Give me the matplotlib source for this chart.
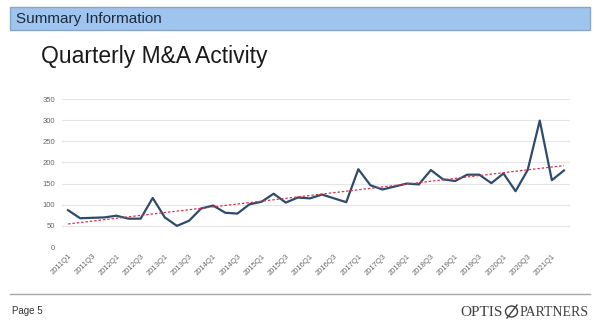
import numpy as np
import matplotlib
matplotlib.use('Agg')
import matplotlib.pyplot as plt
from matplotlib.patches import Rectangle, Ellipse
from matplotlib.lines import Line2D

# quarterly deal counts, 2011Q1 .. 2021Q2
quarters = [f"{y}Q{q}" for y in range(2011, 2022) for q in range(1, 5)][:42]
deals = [87, 68, 69, 70, 74, 67, 67, 116, 70, 50,
         62, 91, 98, 81, 79, 101, 107, 126, 105, 117,
         115, 124, 115, 106, 184, 146, 136, 143, 150, 148,
         182, 160, 156, 171, 171, 151, 174, 132, 182, 299,
         158, 181]
y_ticks = [0, 50, 100, 150, 200, 250, 300, 350]

W, H = 600, 325

def fx(px):
    return px / W

def fy(py):
    return 1 - py / H

fig = plt.figure(figsize=(6, 3.25), dpi=100)
fig.patch.set_facecolor('white')

# header bar
fig.patches.append(Rectangle((fx(10), fy(30)), fx(580), 23 / H, transform=fig.transFigure,
                             facecolor='#9fc5ee', edgecolor='#8aa6c6', lw=1.0))
fig.text(fx(16), fy(18.5), 'Summary Information', fontsize=11, color='#1c2a40',
         family='Liberation Sans', va='center', ha='left')

fig.text(fx(41), fy(57), 'Quarterly M&A Activity', fontsize=16.5, color='#1a1a1a',
         family='Liberation Sans', va='center', ha='left')

# chart
ax = fig.add_axes([fx(62), fy(247), fx(508), 148 / H])
x = np.arange(len(deals))
ax.plot(x, deals, color='#2f4b6c', lw=1.6, zorder=3)
slope, icpt = np.polyfit(x, deals, 1)
ax.plot(x, slope * x + icpt, color='#d9344a', lw=0.9, ls=(0, (2, 1.5)), zorder=4)

ax.set_xlim(-0.5, len(deals) - 0.5)
ax.set_ylim(0, 350)
ax.set_yticks(y_ticks)
ax.set_yticklabels([str(v) for v in y_ticks])
ax.set_xticks(x[::2])
ax.set_xticklabels(quarters[::2], rotation=45, ha='right', va='top', rotation_mode='anchor')
ax.grid(axis='y', color='#e6e6e6', lw=0.8)
ax.set_axisbelow(True)
for s in ax.spines.values():
    s.set_visible(False)
ax.tick_params(length=0, labelsize=5.5, labelcolor='#666666', pad=5)
ax.tick_params(axis='x', pad=4)
for lab in ax.get_xticklabels() + ax.get_yticklabels():
    lab.set_family('Liberation Sans')

# footer
fig.lines.append(Line2D([fx(10), fx(590)], [fy(294), fy(294)], transform=fig.transFigure,
                        color='#a6a6a6', lw=1.0))
fig.text(fx(12), fy(311), 'Page 5', fontsize=7, color='#333333',
         family='Liberation Sans', va='center', ha='left')
fig.text(fx(503), fy(312), 'OPTIS', fontsize=11, color='#404040',
         family='Liberation Serif', va='center', ha='right')
fig.patches.append(Ellipse((fx(511.5), fy(311.5)), 12 / W, 11 / H, transform=fig.transFigure,
                           facecolor='none', edgecolor='#404040', lw=1.0))
fig.lines.append(Line2D([fx(507), fx(517)], [fy(318), fy(305)], transform=fig.transFigure,
                        color='#404040', lw=1.0))
fig.text(fx(520), fy(312.5), 'PARTNERS', fontsize=10, color='#404040',
         family='Liberation Serif', va='center', ha='left')

fig.savefig('out.png', dpi=100)
